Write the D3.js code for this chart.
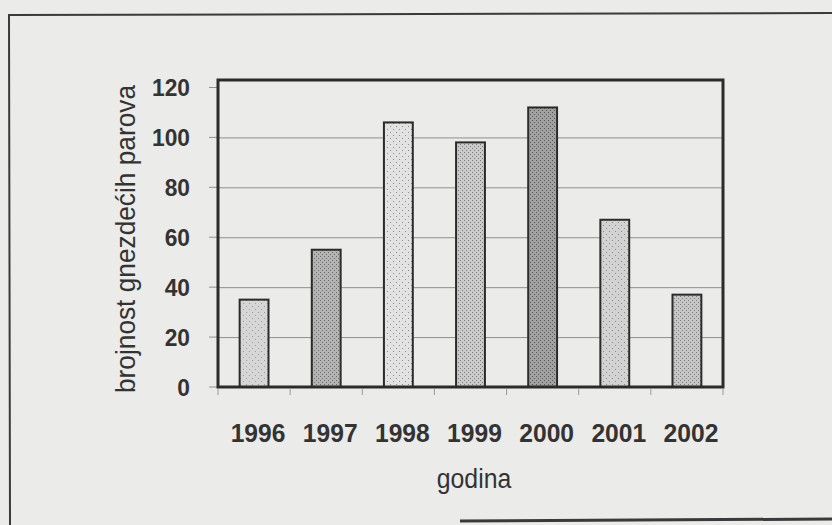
<!DOCTYPE html>
<html>
<head>
<meta charset="utf-8">
<script src="https://cdn.jsdelivr.net/npm/d3@7"></script>
<style>
  html, body { margin: 0; padding: 0; background: #ebebe9; }
  svg { display: block; }
</style>
</head>
<body>
<div id="chart"></div>
<script>
// data
var years = ["1996", "1997", "1998", "1999", "2000", "2001", "2002"];
var pairs = [35, 55, 106, 98, 112, 67, 37];
var yTicks = [0, 20, 40, 60, 80, 100, 120];
var yMax = 123;

var yTitle = "brojnost gnezdećih parova";
var xTitle = "godina";

// stipple textures for each bar (base grey, dot grey, pattern size)
var textures = [
    {base: "#d6d6d6", dot: "#9a9a9a", size: 3},
    {base: "#b4b4b4", dot: "#6a6a6a", size: 2},
    {base: "#e2e2e2", dot: "#8c8c8c", size: 3},
    {base: "#cbcbcb", dot: "#7a7a7a", size: 2},
    {base: "#a2a2a2", dot: "#555555", size: 2},
    {base: "#d2d2d2", dot: "#8a8a8a", size: 3},
    {base: "#c6c6c6", dot: "#7c7c7c", size: 2}
];

var W = 832, H = 525;
var plot = {left: 218, right: 723, top: 80, bottom: 387};
var ink = "#2b2b2b";
var textInk = "#333";
var font = "'Liberation Sans', Arial, sans-serif";
var squeeze = 0.93; //the printed font is a bit narrower than Arial

var svg = d3.select("#chart").append("svg")
    .attr("width", W)
    .attr("height", H);

//helper: text placed at (px, py), squeezed horizontally
function label(g, px, py, txt, size, bold, anchor, sx) {
    return g.append("text")
        .attr("transform", "translate(" + px + "," + py + ") scale(" + sx + ",1)")
        .attr("text-anchor", anchor)
        .style("font-family", font)
        .style("font-weight", bold ? "bold" : "normal")
        .style("font-size", size + "px")
        .style("fill", textInk)
        .text(txt);
}

// patterns
var defs = svg.append("defs");
textures.forEach(function(t, i) {
    var p = defs.append("pattern")
        .attr("id", "tex" + i)
        .attr("patternUnits", "userSpaceOnUse")
        .attr("width", t.size * 2)
        .attr("height", t.size * 2);
    p.append("rect")
        .attr("width", t.size * 2)
        .attr("height", t.size * 2)
        .attr("fill", t.base);
    p.append("rect").attr("x", 0).attr("y", 0).attr("width", 1).attr("height", 1).attr("fill", t.dot);
    p.append("rect").attr("x", t.size).attr("y", t.size).attr("width", 1).attr("height", 1).attr("fill", t.dot);
});

//Outer frame of the figure (slightly skewed, like the scan)
svg.append("path")
    .attr("d", "M10,525 L9,15 L832,13")
    .attr("fill", "none")
    .attr("stroke", "#3a3a3a")
    .attr("stroke-width", 2);
svg.append("line")
    .attr("x1", 460).attr("y1", 521)
    .attr("x2", 832).attr("y2", 519)
    .attr("stroke", "#3a3a3a")
    .attr("stroke-width", 3);

//Scales
var x = d3.scaleBand()
    .domain(years)
    .range([plot.left, plot.right])
    .paddingInner(0.6)
    .paddingOuter(0.3);

var y = d3.scaleLinear()
    .domain([0, yMax])
    .range([plot.bottom, plot.top]);

//Gridlines
var yAxis = d3.axisLeft(y)
    .tickValues(yTicks.filter(function(v) { return v > 0 && v < 120; }))
    .tickSize(-(plot.right - plot.left))
    .tickFormat("");

var grid = svg.append("g")
    .attr("transform", "translate(" + plot.left + ",0)")
    .call(yAxis);
grid.select(".domain").remove();
grid.selectAll(".tick line")
    .attr("stroke", "#8f8f8f")
    .attr("stroke-width", 1);

//small outward ticks on the left
svg.append("g").selectAll("line")
    .data(yTicks)
    .enter().append("line")
    .attr("x1", plot.left - 9)
    .attr("x2", plot.left)
    .attr("y1", function(d) { return y(d); })
    .attr("y2", function(d) { return y(d); })
    .attr("stroke", "#8f8f8f")
    .attr("stroke-width", 1);

//Y tick labels
var yLab = svg.append("g");
yTicks.forEach(function(v) {
    label(yLab, 190, y(v), v, 24, true, "end", 0.95).attr("dy", "0.36em");
});

//Bars
svg.append("g").selectAll("rect")
    .data(years)
    .enter().append("rect")
    .attr("x", function(d) { return x(d); })
    .attr("y", function(d, i) { return y(pairs[i]); })
    .attr("width", x.bandwidth())
    .attr("height", function(d, i) { return y(0) - y(pairs[i]); })
    .attr("fill", function(d, i) { return "url(#tex" + i + ")"; })
    .attr("stroke", ink)
    .attr("stroke-width", 2);

//Plot frame
svg.append("rect")
    .attr("x", plot.left)
    .attr("y", plot.top)
    .attr("width", plot.right - plot.left)
    .attr("height", plot.bottom - plot.top)
    .attr("fill", "none")
    .attr("stroke", ink)
    .attr("stroke-width", 3);

//Ticks under the x axis, between the bars
var step = x.step();
var bounds = years.map(function(d) { return x(d) + x.bandwidth() / 2 - step / 2; });
bounds.push(x(years[years.length - 1]) + x.bandwidth() / 2 + step / 2);
svg.append("g").selectAll("line")
    .data(bounds)
    .enter().append("line")
    .attr("x1", function(d) { return d; })
    .attr("x2", function(d) { return d; })
    .attr("y1", plot.bottom + 2)
    .attr("y2", plot.bottom + 8)
    .attr("stroke", "#9a9a9a")
    .attr("stroke-width", 1);

//Year labels
var xLab = svg.append("g");
years.forEach(function(d) {
    label(xLab, x(d) + x.bandwidth() / 2 + 4, 442, d, 26.5, true, "middle", squeeze);
});

//X-axis title
label(svg, 474, 488, xTitle, 27, false, "middle", 0.92);

//Y-axis title
svg.append("text")
    .attr("transform", "translate(135,239) rotate(-90)")
    .attr("text-anchor", "middle")
    .attr("textLength", 308)
    .attr("lengthAdjust", "spacingAndGlyphs")
    .style("font-family", font)
    .style("font-size", "27px")
    .style("fill", textInk)
    .text(yTitle);
</script>
</body>
</html>
